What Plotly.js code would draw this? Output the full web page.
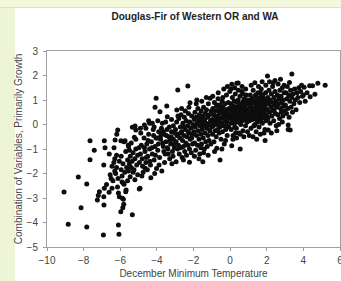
<!DOCTYPE html>
<html>
<head>
<meta charset="utf-8">
<script src="https://cdn.plot.ly/plotly-3.0.1.min.js"></script>
<style>
  html, body { margin: 0; padding: 0; background: #ffffff; }
  #wrap { position: relative; width: 341px; height: 281px; overflow: hidden; background: #ffffff; }
  #leftband { position: absolute; left: 0; top: 0; width: 15px; height: 281px; background: #eef5d7; }
  #topband { position: absolute; left: 0; top: 0; width: 341px; height: 7px; background: #f4f8da; border-bottom: 1px solid #dbe6b4; }
  #chart { position: absolute; left: 0; top: 0; width: 341px; height: 281px; }
</style>
</head>
<body>
<div id="wrap">
  <div id="leftband"></div>
  <div id="topband"></div>
  <div id="chart"></div>
</div>
<script>
// December minimum temperature (x)
const decMinTemp = [
  // below -7
  -9.07,-8.84,-8.29,-8.14,-7.83,-7.83,-7.65,-7.42,-7.25,-7.14,-7.20,-7.65,
  // -7 .. -6
  -6.92,-6.90,-6.89,-6.83,-6.87,-6.61,-6.90,-6.75,-6.55,-6.45,
  -6.40,-6.34,-6.30,-6.25,-6.20,-6.15,-6.10,-6.07,-6.10,-6.05,
  -6.30,-6.50,-6.20,-6.35,-6.12,-6.45,-6.60,-6.05,-6.87,-6.28,-6.14,-6.19,
  // -6 .. -5
  -5.97,-5.86,-5.81,-5.88,-5.83,-5.34,-5.70,-5.68,-5.79,-5.83,
  -5.46,-5.90,-5.95,-5.85,-5.75,-5.65,-5.60,-5.55,-5.50,-5.45,
  -5.40,-5.35,-5.30,-5.25,-5.20,-5.15,-5.10,-5.05,-5.95,-5.70,
  -5.55,-5.40,-5.20,-5.15,-5.05,-5.80,-5.60,-5.30,-5.90,-5.50,
  -5.96,-5.74,-5.34,-5.19,-5.15,-5.56,-5.23,
  // -5 .. -4
  -4.96,-4.92,-4.64,-4.33,-4.95,-4.90,-4.85,-4.80,-4.75,-4.70,
  -4.65,-4.60,-4.55,-4.50,-4.45,-4.40,-4.35,-4.30,-4.25,-4.20,
  -4.15,-4.10,-4.05,-4.02,-4.98,-4.88,-4.78,-4.68,-4.58,-4.48,
  -4.38,-4.28,-4.18,-4.08,-4.04,-4.10,-4.40,-4.45,-4.90,-4.25,
  -4.60,-4.15,-4.52,-4.82,-4.12,-4.68,
  // -4 .. -3
  -3.46,-3.83,-3.43,-3.95,-3.70,-3.20,-3.10,-3.90,-3.80,-3.75,
  -3.65,-3.60,-3.55,-3.50,-3.45,-3.40,-3.35,-3.30,-3.25,-3.20,
  -3.15,-3.10,-3.05,-3.02,-3.95,-3.85,-3.73,-3.68,-3.58,-3.48,
  -3.38,-3.28,-3.18,-3.08,-3.92,-3.62,-3.52,-3.32,-3.12,-3.88,
  -3.78,-3.42,-3.22,-3.98,-3.66,
  // -3 .. -2
  -2.86,-2.31,-2.91,-2.19,-2.95,-2.22,
  -2.98,-2.95,-2.92,-2.88,-2.85,-2.82,-2.80,-2.78,-2.75,-2.72,
  -2.70,-2.68,-2.65,-2.62,-2.60,-2.58,-2.55,-2.52,-2.50,-2.48,
  -2.45,-2.42,-2.40,-2.38,-2.35,-2.32,-2.30,-2.28,-2.25,-2.22,
  -2.20,-2.18,-2.15,-2.12,-2.10,-2.08,-2.05,-2.03,-2.90,-2.70,
  -2.50,-2.30,-2.10,-2.65,-2.45,-2.25,-2.85,-2.55,
  // -2 .. -1
  -1.82,-1.49,-1.09,
  -1.98,-1.96,-1.94,-1.92,-1.90,-1.88,-1.86,-1.84,-1.80,-1.78,
  -1.76,-1.74,-1.72,-1.70,-1.68,-1.66,-1.64,-1.62,-1.60,-1.58,
  -1.56,-1.54,-1.52,-1.50,-1.47,-1.45,-1.43,-1.41,-1.39,-1.37,
  -1.35,-1.33,-1.31,-1.29,-1.27,-1.25,-1.23,-1.21,-1.19,-1.17,
  -1.15,-1.13,-1.11,-1.07,-1.05,-1.03,-1.01,-1.95,-1.70,-1.45,
  -1.20,-1.85,-1.55,-1.30,-1.60,
  // -1 .. 0
  -0.55,-0.73,
  -0.98,-0.96,-0.94,-0.92,-0.90,-0.88,-0.86,-0.84,-0.82,-0.80,
  -0.78,-0.76,-0.74,-0.72,-0.70,-0.68,-0.66,-0.64,-0.62,-0.60,
  -0.58,-0.56,-0.54,-0.52,-0.50,-0.48,-0.46,-0.44,-0.42,-0.40,
  -0.38,-0.36,-0.34,-0.32,-0.30,-0.28,-0.26,-0.24,-0.22,-0.20,
  -0.18,-0.16,-0.14,-0.12,-0.10,-0.08,-0.06,-0.04,-0.02,-0.95,
  -0.65,-0.35,-0.15,-0.85,-0.45,-0.25,-0.70,-0.50,-0.30,-0.10,
  -0.90,-0.60,-0.20,-0.40,
  // 0 .. 1
  0.09,0.36,0.44,0.09,0.55,
  0.02,0.04,0.06,0.08,0.10,0.12,0.14,0.16,0.18,0.20,
  0.22,0.24,0.26,0.28,0.30,0.32,0.34,0.36,0.38,0.40,
  0.42,0.44,0.46,0.48,0.50,0.52,0.54,0.56,0.58,0.60,
  0.62,0.64,0.66,0.68,0.70,0.72,0.74,0.76,0.78,0.80,
  0.82,0.84,0.86,0.88,0.90,0.92,0.94,0.96,0.98,0.05,
  0.15,0.25,0.35,0.45,0.55,0.65,0.75,0.85,0.95,0.10,
  0.20,0.30,0.40,0.50,0.60,0.70,0.80,0.90,0.15,0.35,
  0.55,0.75,0.95,0.25,0.65,0.85,0.45,0.05,0.70,0.30,
  // 1 .. 2
  1.91,
  1.02,1.04,1.06,1.08,1.10,1.12,1.14,1.16,1.18,1.20,
  1.22,1.24,1.26,1.28,1.30,1.32,1.34,1.36,1.38,1.40,
  1.42,1.44,1.46,1.48,1.50,1.52,1.54,1.56,1.58,1.60,
  1.62,1.64,1.66,1.68,1.70,1.72,1.74,1.76,1.78,1.80,
  1.82,1.84,1.86,1.88,1.90,1.92,1.94,1.96,1.98,1.15,
  1.35,1.55,1.75,1.95,1.25,1.45,1.65,1.85,1.05,1.10,
  1.20,1.30,1.40,1.50,1.60,1.70,1.80,1.90,1.15,1.45,
  1.65,1.85,1.25,1.55,1.75,1.35,1.95,
  // 2 .. 3
  2.04,2.08,
  2.02,2.05,2.08,2.10,2.12,2.15,2.18,2.20,2.22,2.25,
  2.28,2.30,2.32,2.35,2.38,2.40,2.42,2.45,2.48,2.50,
  2.52,2.55,2.58,2.60,2.62,2.65,2.68,2.70,2.72,2.75,
  2.78,2.80,2.82,2.85,2.88,2.90,2.92,2.95,2.98,2.15,
  2.45,2.75,2.25,2.55,2.85,2.35,2.65,2.05,2.95,2.40,
  // 3 .. 4
  3.37,3.24,3.17,3.17,3.28,
  3.02,3.05,3.08,3.10,3.12,3.15,3.20,3.22,3.26,3.30,
  3.33,3.36,3.40,3.44,3.48,3.52,3.56,3.60,3.65,3.70,
  3.75,3.80,3.85,3.90,3.95,
  // above 4
  4.04,4.34,4.50,4.79,5.19,4.63,4.37,4.20,4.10,4.00
];

// Combination of variables (y), same order
const growthScore = [
  // below -7
  -2.76,-4.07,-2.14,-3.40,-2.43,-4.18,-1.44,-1.05,-3.08,-2.74,-2.90,-0.66,
  // -7 .. -6
  -4.51,-1.65,-3.29,-0.95,-2.60,-2.77,-2.95,-2.45,-2.05,-1.70,
  -2.30,-0.95,-1.40,-2.00,-1.75,-2.55,-2.80,-4.48,-4.10,-2.95,
  -1.90,-2.20,-1.25,-1.55,-2.20,-2.60,-1.20,-1.50,-0.66,-0.63,-0.22,-0.40,
  // -6 .. -5
  -3.56,-3.40,-3.26,-3.01,-3.05,-3.68,-2.74,-2.67,-2.44,-2.40,
  -2.13,-2.10,-1.85,-1.60,-1.95,-1.75,-1.45,-1.90,-1.60,-1.30,
  -1.75,-1.50,-1.15,-1.85,-1.40,-1.00,-1.65,-1.25,-1.30,-1.10,
  -0.90,-0.75,-2.25,-0.60,-2.05,-0.70,-2.30,-1.95,-2.35,-1.05,
  -0.66,-0.66,-0.11,-0.06,-0.22,-0.84,-0.52,
  // -5 .. -4
  -2.63,-2.60,-1.79,-2.17,-1.55,-1.20,-0.85,-1.40,-1.95,-0.55,
  -1.10,-1.55,-0.80,-1.30,-0.40,-1.00,-1.65,-0.70,-1.20,-0.20,
  -1.45,-0.90,-0.55,-1.80,-0.95,-0.35,-1.70,-0.95,-1.35,-0.65,
  -1.50,-0.95,-0.45,-1.25,1.07,0.70,0.05,0.15,-0.15,0.05,
  -0.15,-0.10,-1.85,-2.10,-2.00,-0.02,
  // -4 .. -3
  0.76,0.52,0.32,0.15,0.05,0.20,-0.05,-0.30,-0.60,-0.15,
  -0.90,-0.40,-1.20,-0.70,-0.20,-1.00,-0.50,-1.40,-0.80,-0.30,
  -1.10,-0.60,-0.95,-0.35,-1.05,-1.35,-1.90,-0.75,-1.55,-0.45,
  -1.20,-0.65,-1.60,-0.80,-0.80,-1.10,0.10,-0.10,-1.30,-1.65,
  -0.45,-0.95,-0.50,-0.55,-0.30,
  // -3 .. -2
  1.41,1.57,0.59,0.89,-1.52,-1.54,
  -0.20,-0.70,0.10,-1.00,-0.40,-0.85,0.25,-1.20,-0.55,-0.10,
  -0.95,0.40,-0.30,-1.35,-0.65,0.05,-0.90,-0.45,0.30,-1.10,
  -0.20,-0.75,0.15,-1.25,-0.50,-0.05,-0.85,0.45,-0.35,-1.00,
  0.10,-0.60,-0.15,-1.15,0.35,-0.40,-0.80,0.00,-0.45,-0.35,
  -0.10,-0.30,-0.55,0.65,0.55,0.70,0.35,-1.45,
  // -2 .. -1
  1.00,-1.52,1.07,
  -0.30,0.20,-0.75,0.50,-0.10,-1.05,0.30,-0.45,0.05,-0.85,
  0.65,-0.25,0.15,-0.60,0.40,-1.20,-0.05,0.25,-0.40,0.55,
  -0.80,0.10,-0.20,0.35,-0.55,0.70,-0.05,-1.00,0.20,-0.35,
  0.45,-0.70,0.05,0.60,-0.15,-0.90,0.30,-0.45,0.85,0.00,
  -0.65,0.40,-0.25,0.15,-0.80,0.55,-0.10,-1.30,-1.40,-1.15,
  -1.25,0.85,0.95,1.10,-0.95,
  // -1 .. 0
  -1.45,-0.97,
  0.20,-0.40,0.65,-0.05,0.40,-0.70,0.90,0.10,-0.25,0.55,
  0.25,-0.50,0.75,0.00,0.35,-0.20,1.05,0.15,0.60,-0.35,
  0.45,-0.10,0.80,0.25,-0.60,0.50,0.05,0.95,-0.30,0.30,
  0.70,-0.05,0.45,-0.80,0.15,0.85,0.35,-0.20,0.60,1.20,
  0.10,-0.45,0.50,0.25,0.90,-0.10,0.65,0.30,1.35,1.15,
  1.30,1.45,1.55,-1.10,-1.00,-0.65,0.80,0.65,0.55,0.40,
  0.05,0.10,-0.05,1.10,
  // 0 .. 1
  1.64,1.68,1.69,-0.87,-1.00,
  0.40,0.85,-0.20,0.60,0.15,1.10,0.45,-0.45,0.75,0.30,
  0.95,0.05,0.55,1.25,0.20,0.70,-0.15,0.45,0.90,0.10,
  0.60,1.00,0.35,-0.35,0.75,0.25,1.15,0.50,0.00,0.85,
  0.40,1.35,0.15,0.65,-0.25,0.95,0.30,0.55,1.05,0.20,
  0.70,-0.05,0.45,1.20,0.60,0.10,0.85,0.35,1.00,1.45,
  -0.60,1.50,-0.55,1.40,-0.40,1.55,-0.50,1.45,-0.30,0.70,
  0.50,0.95,0.35,0.10,0.60,0.45,0.90,0.30,0.25,0.25,
  0.80,0.75,0.55,-0.10,0.35,0.20,0.65,0.05,1.25,-0.35,
  // 1 .. 2
  -0.65,
  0.50,0.95,0.15,0.70,1.20,0.35,-0.15,0.85,0.55,1.05,
  0.20,0.65,1.40,0.40,-0.05,0.90,0.60,1.15,0.25,0.75,
  -0.30,0.45,1.00,0.70,0.10,1.30,0.50,0.85,-0.10,0.35,
  1.10,0.65,0.20,0.95,1.45,0.45,0.75,0.05,1.20,0.55,
  0.90,0.30,1.05,0.60,-0.20,0.80,1.30,0.40,0.95,1.60,
  1.70,1.55,1.75,1.60,-0.50,-0.60,-0.40,-0.35,-0.45,0.80,
  0.45,0.65,1.20,0.90,0.55,0.25,1.00,0.70,0.30,0.20,
  1.30,0.50,0.95,0.35,0.60,0.00,0.15,
  // 2 .. 3
  1.98,-0.22,
  0.60,1.10,0.30,0.85,1.40,0.50,0.05,1.00,0.70,1.25,
  0.35,0.90,1.55,0.60,0.15,1.10,0.80,1.35,0.45,0.95,
  -0.05,0.70,1.20,0.40,1.65,0.85,1.05,0.25,1.40,0.65,
  1.15,0.50,0.90,1.50,0.35,1.00,0.75,1.30,0.55,1.75,
  1.80,1.85,-0.35,-0.25,0.10,1.70,0.00,0.20,1.60,0.55,
  // 3 .. 4
  2.06,1.71,-0.02,-0.20,-0.22,
  0.80,1.30,0.45,1.05,1.55,0.65,1.20,0.30,0.95,1.40,
  0.70,1.10,0.50,1.25,0.85,1.45,1.00,0.60,1.30,1.10,
  1.50,0.90,1.35,1.60,1.15,
  // above 4
  1.52,1.58,1.58,1.68,1.60,1.23,1.13,1.30,0.95,1.20
];

const chartTitle = 'Douglas-Fir of Western OR and WA';
const xTitle = 'December Minimum Temperature';
const yTitle = 'Combination of Variables, Primarily Growth';

const FONT = 'Arial, "Liberation Sans", sans-serif';

const trace = {
  type: 'scatter',
  mode: 'markers',
  x: decMinTemp,
  y: growthScore,
  marker: { color: '#0d0d0d', size: 5, line: { width: 0 } },
  hoverinfo: 'x+y'
};

const layout = {
  width: 341,
  height: 281,
  margin: { l: 47, r: 1, t: 51, b: 34, pad: 0 },
  paper_bgcolor: 'rgba(0,0,0,0)',
  plot_bgcolor: '#ffffff',
  showlegend: false,
  font: { family: FONT, color: '#444' },
  title: {
    text: chartTitle,
    font: { family: FONT, size: 10, color: '#222', weight: 'bold' },
    x: 0.572, xref: 'container', xanchor: 'center',
    y: 0.94, yref: 'container', yanchor: 'middle'
  },
  xaxis: {
    range: [-10, 6],
    tick0: -10, dtick: 2,
    ticks: 'outside', ticklen: 3, tickcolor: '#999', tickwidth: 1,
    ticklabelstandoff: 1,
    ticklabeloverflow: 'allow',
    showline: true, linecolor: '#a0a0a0', linewidth: 1, mirror: true,
    showgrid: false, zeroline: false,
    tickfont: { family: FONT, size: 10, color: '#444' },
    title: { text: xTitle, font: { family: FONT, size: 10, color: '#444' }, standoff: 4 }
  },
  yaxis: {
    range: [-5, 3],
    tick0: -5, dtick: 1,
    ticks: 'outside', ticklen: 3, tickcolor: '#999', tickwidth: 1,
    ticklabelstandoff: 3,
    ticklabeloverflow: 'allow',
    showline: true, linecolor: '#a0a0a0', linewidth: 1, mirror: true,
    showgrid: false, zeroline: false,
    tickfont: { family: FONT, size: 10, color: '#444' },
    title: { text: yTitle, font: { family: FONT, size: 10, color: '#444' }, standoff: 2 }
  }
};

Plotly.newPlot('chart', [trace], layout, { staticPlot: true, displayModeBar: false });
</script>
</body>
</html>
